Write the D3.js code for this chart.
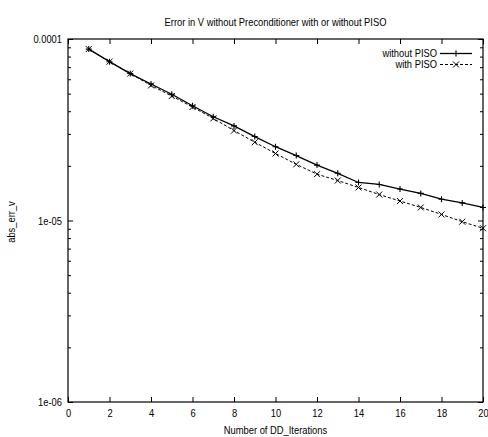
<!DOCTYPE html>
<html>
<head>
<meta charset="utf-8">
<script src="https://cdn.jsdelivr.net/npm/d3@7"></script>
<style>
  html, body { margin: 0; padding: 0; background: #fff; }
  svg { display: block; }
  text { font-family: "Liberation Sans", Arial, sans-serif; fill: #000; }
</style>
</head>
<body>
<svg id="chart" width="488" height="437"></svg>
<script>
// Iteration counts on the x axis
const iterations = [1, 2, 3, 4, 5, 6, 7, 8, 9, 10, 11, 12, 13, 14, 15, 16, 17, 18, 19, 20];

// abs_err_v per DD iteration
const withoutPISO = [8.8e-5, 7.5e-5, 6.45e-5, 5.65e-5, 4.96e-5, 4.29e-5, 3.73e-5, 3.32e-5, 2.90e-5, 2.55e-5,
                     2.28e-5, 2.02e-5, 1.82e-5, 1.62e-5, 1.58e-5, 1.49e-5, 1.41e-5, 1.31e-5, 1.25e-5, 1.18e-5];
const withPISO    = [8.8e-5, 7.5e-5, 6.45e-5, 5.55e-5, 4.85e-5, 4.22e-5, 3.65e-5, 3.13e-5, 2.70e-5, 2.34e-5,
                     2.04e-5, 1.80e-5, 1.66e-5, 1.52e-5, 1.39e-5, 1.28e-5, 1.18e-5, 1.08e-5, 9.85e-6, 9.06e-6];

// Axis ticks
const xTicks = [0, 2, 4, 6, 8, 10, 12, 14, 16, 18, 20];
const yMajorTicks = [1e-6, 1e-5, 1e-4];
const yMajorLabels = ["1e-06", "1e-05", "0.0001"];
const yMinorTicks = [2, 3, 4, 5, 6, 7, 8, 9].flatMap(m => [m * 1e-6, m * 1e-5]);

const titleText = "Error in V without Preconditioner with or without PISO";
const xLabelText = "Number of DD_Iterations";
const yLabelText = "abs_err_v";
const seriesNames = ["without PISO", "with PISO"];

const svg = d3.select("#chart");
const plot = { left: 68, right: 483, top: 39, bottom: 402 };

const x = d3.scaleLinear().domain([0, 20]).range([plot.left, plot.right]);
const y = d3.scaleLog().domain([1e-6, 1e-4]).range([plot.bottom, plot.top]);

const CONDENSE = 0.85;
function condense(sel) {
  sel.each(function () {
    const w = this.getComputedTextLength();
    if (w > 0) {
      d3.select(this).attr("textLength", w * CONDENSE).attr("lengthAdjust", "spacingAndGlyphs");
    }
  });
}

// Axes with inward ticks (gnuplot style)
const fmtY = d => yMajorLabels[yMajorTicks.indexOf(d)];

svg.append("g").attr("transform", `translate(0,${plot.bottom})`)
  .call(d3.axisBottom(x).tickValues(xTicks).tickSize(-5).tickPadding(7).tickFormat(d3.format("d")));
svg.append("g").attr("transform", `translate(0,${plot.top})`)
  .call(d3.axisTop(x).tickValues(xTicks).tickSize(-5).tickFormat(""));

svg.append("g").attr("transform", `translate(${plot.left},0)`)
  .call(d3.axisLeft(y).tickValues(yMajorTicks).tickSize(-5).tickPadding(6).tickFormat(fmtY));
svg.append("g").attr("transform", `translate(${plot.left},0)`)
  .call(d3.axisLeft(y).tickValues(yMinorTicks).tickSize(-3).tickFormat(""));
svg.append("g").attr("transform", `translate(${plot.right},0)`)
  .call(d3.axisRight(y).tickValues(yMajorTicks).tickSize(-5).tickFormat(""));
svg.append("g").attr("transform", `translate(${plot.right},0)`)
  .call(d3.axisRight(y).tickValues(yMinorTicks).tickSize(-3).tickFormat(""));

svg.selectAll(".domain").remove();
svg.selectAll(".tick line").attr("stroke", "#000").attr("stroke-width", 1);
svg.selectAll(".tick text").attr("font-size", 11).attr("font-family", null).call(condense);

// Plot frame
svg.append("rect")
  .attr("x", plot.left).attr("y", plot.top)
  .attr("width", plot.right - plot.left).attr("height", plot.bottom - plot.top)
  .attr("fill", "none").attr("stroke", "#000").attr("stroke-width", 1.2);

// Titles
svg.append("text").attr("x", (plot.left + plot.right) / 2).attr("y", 26)
  .attr("text-anchor", "middle").attr("font-size", 11).text(titleText).call(condense);
svg.append("text").attr("x", (plot.left + plot.right) / 2).attr("y", 434)
  .attr("text-anchor", "middle").attr("font-size", 11).text(xLabelText).call(condense);
svg.append("text").attr("transform", "translate(15,222) rotate(-90)")
  .attr("text-anchor", "middle").attr("font-size", 11).text(yLabelText).call(condense);

// Markers
function plus(g, cx, cy, r) {
  g.append("path").attr("d", `M${cx - r},${cy}H${cx + r}M${cx},${cy - r}V${cy + r}`)
    .attr("stroke", "#000").attr("stroke-width", 1.1).attr("fill", "none");
}
function cross(g, cx, cy, r) {
  g.append("path").attr("d", `M${cx - r},${cy - r}L${cx + r},${cy + r}M${cx - r},${cy + r}L${cx + r},${cy - r}`)
    .attr("stroke", "#000").attr("stroke-width", 1).attr("fill", "none");
}

const line = d3.line().x((d, i) => x(iterations[i])).y(d => y(d));

const series = [
  { name: seriesNames[0], values: withoutPISO, width: 1.3, dash: null, marker: plus },
  { name: seriesNames[1], values: withPISO, width: 1, dash: "3,2", marker: cross }
];

const plotArea = svg.append("g");
series.forEach(s => {
  plotArea.append("path").datum(s.values).attr("d", line)
    .attr("fill", "none").attr("stroke", "#000").attr("stroke-width", s.width)
    .attr("stroke-dasharray", s.dash);
  const mg = plotArea.append("g");
  s.values.forEach((v, i) => s.marker(mg, x(iterations[i]), y(v), 3));
});

// Legend
const legend = svg.append("g");
series.forEach((s, i) => {
  const ly = 53.5 + i * 11;
  legend.append("text").attr("x", 437).attr("y", ly).attr("dy", "0.35em")
    .attr("text-anchor", "end").attr("font-size", 11).text(s.name).call(condense);
  legend.append("line").attr("x1", 440).attr("x2", 472).attr("y1", ly).attr("y2", ly)
    .attr("stroke", "#000").attr("stroke-width", s.width).attr("stroke-dasharray", s.dash);
  s.marker(legend, 456, ly, 3);
});
</script>
</body>
</html>
